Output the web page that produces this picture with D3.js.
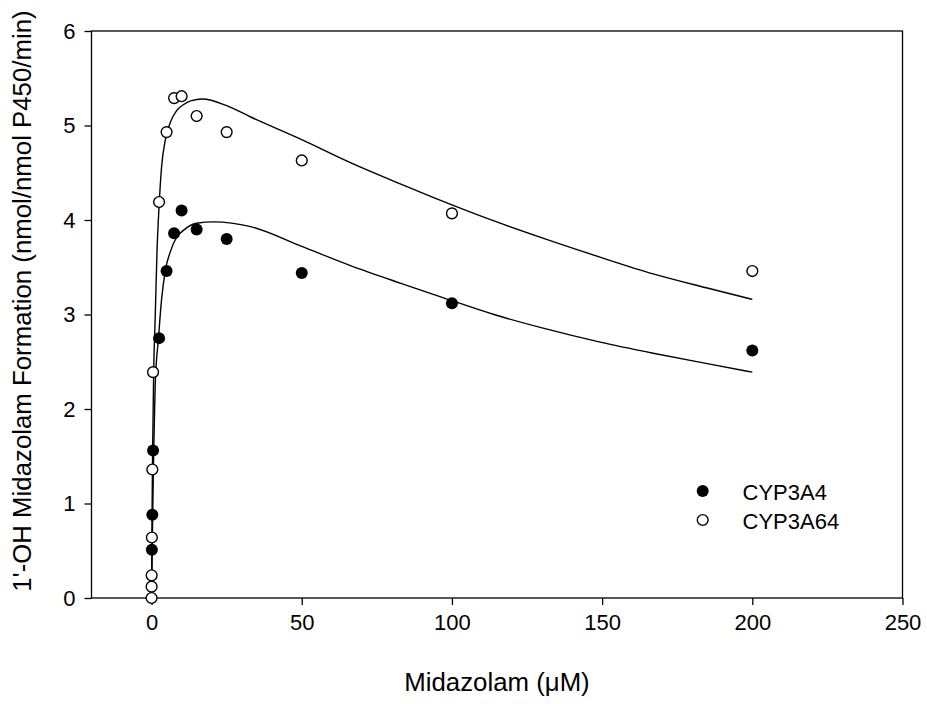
<!DOCTYPE html>
<html lang="en">
<head>
<meta charset="UTF-8">
<title>Midazolam 1'-hydroxylation</title>
<script src="https://d3js.org/d3.v7.min.js"></script>
<style>
  body { margin: 0; background: #fff; }
  text { font-family: "Liberation Sans", Arial, sans-serif; fill: #000; }
</style>
</head>
<body>
<svg id="chart"></svg>
<script>
// measured points
const cyp3a4X = [0.1, 0.25, 0.5, 2.5, 5, 7.5, 10, 15, 25, 50, 100, 200];
const cyp3a4Y = [0.51, 0.88, 1.56, 2.75, 3.46, 3.86, 4.10, 3.90, 3.80, 3.44, 3.12, 2.62];
const cyp3a64X = [0, 0.01, 0.03, 0.1, 0.25, 0.5, 2.5, 5, 7.5, 10, 15, 25, 50, 100, 200];
const cyp3a64Y = [0.00, 0.12, 0.24, 0.64, 1.36, 2.39, 4.19, 4.93, 5.29, 5.31, 5.10, 4.93, 4.63, 4.07, 3.46];

// fitted curves
const fit4X = [0, 0.35, 0.7, 1.2, 2.3, 3.3, 4.6, 6.2, 8.4, 10.6, 15, 20.6, 33, 50, 66, 83, 96, 114, 131, 149, 167, 185, 200];
const fit4Y = [0, 0.84, 1.55, 2.25, 2.75, 3.15, 3.47, 3.66, 3.82, 3.89, 3.965, 3.98, 3.93, 3.72, 3.52, 3.33, 3.19, 3.00, 2.85, 2.71, 2.59, 2.48, 2.39];
const fit64X = [0, 0.15, 0.35, 0.7, 1.2, 1.8, 2.5, 3.3, 4.6, 6.2, 8.4, 10.6, 13, 17, 25, 33, 50, 66, 83, 100, 114, 131, 149, 167, 185, 200];
const fit64Y = [0, 0.85, 1.55, 2.39, 2.96, 3.66, 4.15, 4.55, 4.85, 5.03, 5.16, 5.22, 5.26, 5.28, 5.21, 5.09, 4.85, 4.61, 4.38, 4.16, 3.99, 3.80, 3.61, 3.43, 3.28, 3.16];

const xTicks = [0, 50, 100, 150, 200, 250];
const yTicks = [0, 1, 2, 3, 4, 5, 6];
const seriesNames = ["CYP3A4", "CYP3A64"];

const width = 927, height = 704;
const svg = d3.select("#chart").attr("width", width).attr("height", height);

const x = d3.scaleLinear().domain([-20, 250]).range([91.5, 902.5]);
const y = d3.scaleLinear().domain([0, 6]).range([598, 31]);

const pts = (xs, ys) => xs.map((v, i) => ({x: v, y: ys[i]}));

// frame
svg.append("rect")
  .attr("x", x(-20)).attr("y", y(6))
  .attr("width", x(250) - x(-20)).attr("height", y(0) - y(6))
  .attr("fill", "none").attr("stroke", "#000").attr("stroke-width", 1.3);

// axes
const xAxis = svg.append("g").attr("transform", `translate(0,${y(0)})`)
  .call(d3.axisBottom(x).tickValues(xTicks).tickFormat(d3.format("d"))
    .tickSize(7).tickPadding(9).tickSizeOuter(0));
const yAxis = svg.append("g").attr("transform", `translate(${x(-20)},0)`)
  .call(d3.axisLeft(y).tickValues(yTicks).tickFormat(d3.format("d"))
    .tickSize(7).tickPadding(9).tickSizeOuter(0));
[xAxis, yAxis].forEach(g => {
  g.select(".domain").remove();
  g.selectAll(".tick line").attr("stroke", "#000").attr("stroke-width", 1.3);
  g.selectAll(".tick text").style("font-size", "22px").attr("fill", "#000");
});

// fitted lines
const line = d3.line().x(d => x(d.x)).y(d => y(d.y)).curve(d3.curveMonotoneX);
[pts(fit4X, fit4Y), pts(fit64X, fit64Y)].forEach(p => {
  svg.append("path").datum(p).attr("d", line)
    .attr("fill", "none").attr("stroke", "#000").attr("stroke-width", 1.4);
});

// points
svg.append("g").selectAll("circle").data(pts(cyp3a64X, cyp3a64Y)).join("circle")
  .attr("cx", d => x(d.x)).attr("cy", d => y(d.y)).attr("r", 5.4)
  .attr("fill", "#fff").attr("stroke", "#000").attr("stroke-width", 1.4);
svg.append("g").selectAll("circle").data(pts(cyp3a4X, cyp3a4Y)).join("circle")
  .attr("cx", d => x(d.x)).attr("cy", d => y(d.y)).attr("r", 6)
  .attr("fill", "#000");

// legend
const legend = svg.append("g");
seriesNames.forEach((name, i) => {
  const cy = 491 + i * 29;
  legend.append("circle").attr("cx", 702.7).attr("cy", cy)
    .attr("r", i === 0 ? 6 : 5.4)
    .attr("fill", i === 0 ? "#000" : "#fff")
    .attr("stroke", "#000").attr("stroke-width", i === 0 ? 0 : 1.4);
  legend.append("text").attr("x", 742.5).attr("y", cy + 8.5)
    .style("font-size", "22px").text(name);
});

// axis titles
svg.append("text").attr("x", x(115)).attr("y", 691)
  .attr("text-anchor", "middle").style("font-size", "25.8px")
  .text("Midazolam (\u03bcM)");
svg.append("text")
  .attr("transform", "translate(31,301) rotate(-90)")
  .attr("text-anchor", "middle").style("font-size", "25.8px")
  .text("1'-OH Midazolam Formation (nmol/nmol P450/min)");
</script>
</body>
</html>
